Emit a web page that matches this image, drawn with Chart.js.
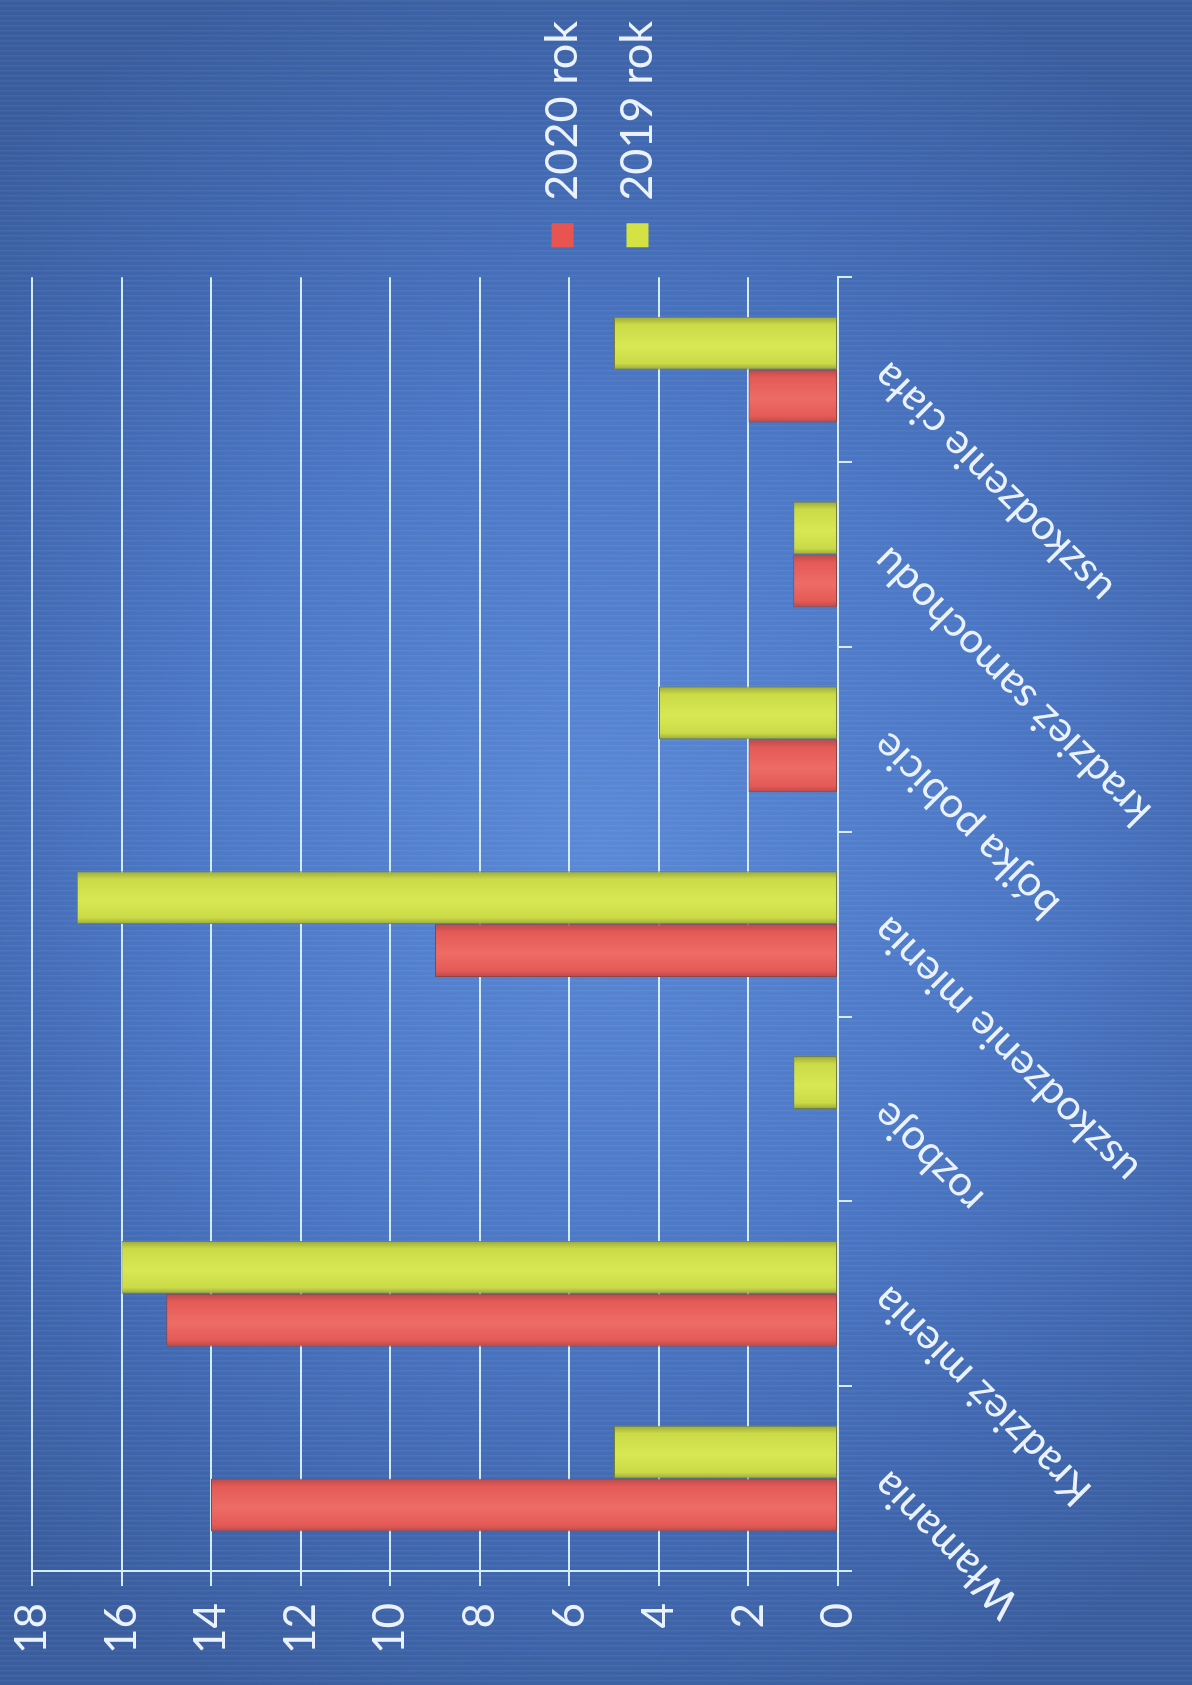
<!DOCTYPE html>
<html>
<head>
<meta charset="utf-8">
<script src="https://cdn.jsdelivr.net/npm/chart.js@4/dist/chart.umd.min.js"></script>
<style>
  html, body {
    margin: 0;
    padding: 0;
  }
  body {
    width: 1192px;
    height: 1685px;
    overflow: hidden;
    position: relative;
    background:
      repeating-linear-gradient(180deg, rgba(255,255,255,0.05) 0px, rgba(255,255,255,0.05) 1px, rgba(0,0,0,0) 2px, rgba(0,0,0,0) 5px),
      radial-gradient(ellipse 75% 55% at 50% 50%, #5b89d6 0%, #4c78c6 45%, #3f66ad 80%, #3a5d9e 100%);
  }
  /* the chart is drawn upright and then turned a quarter turn to the left */
  #wrap {
    position: absolute;
    left: 0;
    top: 0;
    width: 1685px;
    height: 1192px;
    transform-origin: 0 0;
    transform: translateY(1685px) rotate(-90deg);
  }
</style>
</head>
<body>
<div id="wrap">
  <canvas id="chart" width="1685" height="1192"></canvas>
</div>
<script>
const categories = [
  "Włamania",
  "Kradzież mienia",
  "rozboje",
  "uszkodzenie mienia",
  "bójka pobicie",
  "kradzież samochodu",
  "uszkodzenie ciała",
];
const values2020 = [14, 15, 0, 9, 2, 1, 2];
const values2019 = [5, 16, 1, 17, 4, 1, 5];
const seriesNames = ["2020 rok", "2019 rok"];
const legendColors = ["#e8544f", "#d4e244"];

const textColor = "#eaf2ff";
const lineColor = "#d4ecff";
const fontFamily = "Lato, 'Open Sans', sans-serif";
const catPct = 0.572;

Chart.defaults.font.family = fontFamily;

// shaded bar fill: darker edges, lighter middle (like the old 3D look)
function barFill(edge, mid, light) {
  return (context) => {
    const chart = context.chart;
    const xScale = chart.scales.x;
    if (context.type !== "data" || !chart.chartArea || !xScale) return mid;
    const catWidth = xScale.width / categories.length;
    const w = (catWidth * catPct) / 2;
    const center = xScale.getPixelForValue(context.dataIndex);
    const left = context.datasetIndex === 0 ? center - w : center;
    const g = chart.ctx.createLinearGradient(left, 0, left + w, 0);
    g.addColorStop(0, edge);
    g.addColorStop(0.12, mid);
    g.addColorStop(0.45, light);
    g.addColorStop(0.85, mid);
    g.addColorStop(1, edge);
    return g;
  };
}

const ctx = document.getElementById("chart");

new Chart(ctx, {
  type: "bar",
  data: {
    labels: categories,
    datasets: [
      {
        label: seriesNames[0],
        data: values2020,
        backgroundColor: barFill("#b84a4a", "#e45a56", "#ee6c66"),
        borderColor: "#8e4444",
        borderWidth: 1,
        borderSkipped: false,
      },
      {
        label: seriesNames[1],
        data: values2019,
        backgroundColor: barFill("#9aa83a", "#cbdb48", "#d8e855"),
        borderColor: "#76803a",
        borderWidth: 1,
        borderSkipped: false,
      },
    ],
  },
  options: {
    responsive: false,
    animation: false,
    devicePixelRatio: 1,
    categoryPercentage: catPct,
    barPercentage: 1,
    layout: {
      // extra bottom padding only lifts the legend; x axis height is trimmed by the same amount
      padding: { top: 32, left: 0, bottom: 24, right: 11 },
    },
    plugins: {
      tooltip: { enabled: false },
      legend: {
        position: "right",
        align: "center",
        labels: {
          color: textColor,
          boxWidth: 24,
          boxHeight: 22,
          padding: 30,
          font: { size: 45, family: fontFamily },
          generateLabels: (chart) =>
            Chart.defaults.plugins.legend.labels
              .generateLabels(chart)
              .map((item, i) => ({
                ...item,
                fillStyle: legendColors[i],
                strokeStyle: legendColors[i],
                lineWidth: 0,
              })),
        },
      },
    },
    scales: {
      x: {
        grid: {
          offset: true,
          drawOnChartArea: false,
          drawTicks: true,
          tickLength: 14,
          color: lineColor,
          lineWidth: 2,
        },
        border: { display: true, color: lineColor, width: 2 },
        ticks: {
          color: textColor,
          minRotation: 45,
          maxRotation: 45,
          padding: 10,
          font: { size: 42, family: fontFamily },
        },
        afterFit: (scale) => {
          scale.height = 330;
        },
      },
      y: {
        min: 0,
        max: 18,
        grid: {
          color: lineColor,
          lineWidth: 2,
          tickLength: 15,
        },
        border: { display: true, color: lineColor, width: 2 },
        ticks: {
          stepSize: 2,
          color: textColor,
          padding: 17,
          font: { size: 44, family: fontFamily },
        },
        afterFit: (scale) => {
          scale.width = 114;
          scale.paddingTop = 0;
        },
      },
    },
  },
});
</script>
</body>
</html>
